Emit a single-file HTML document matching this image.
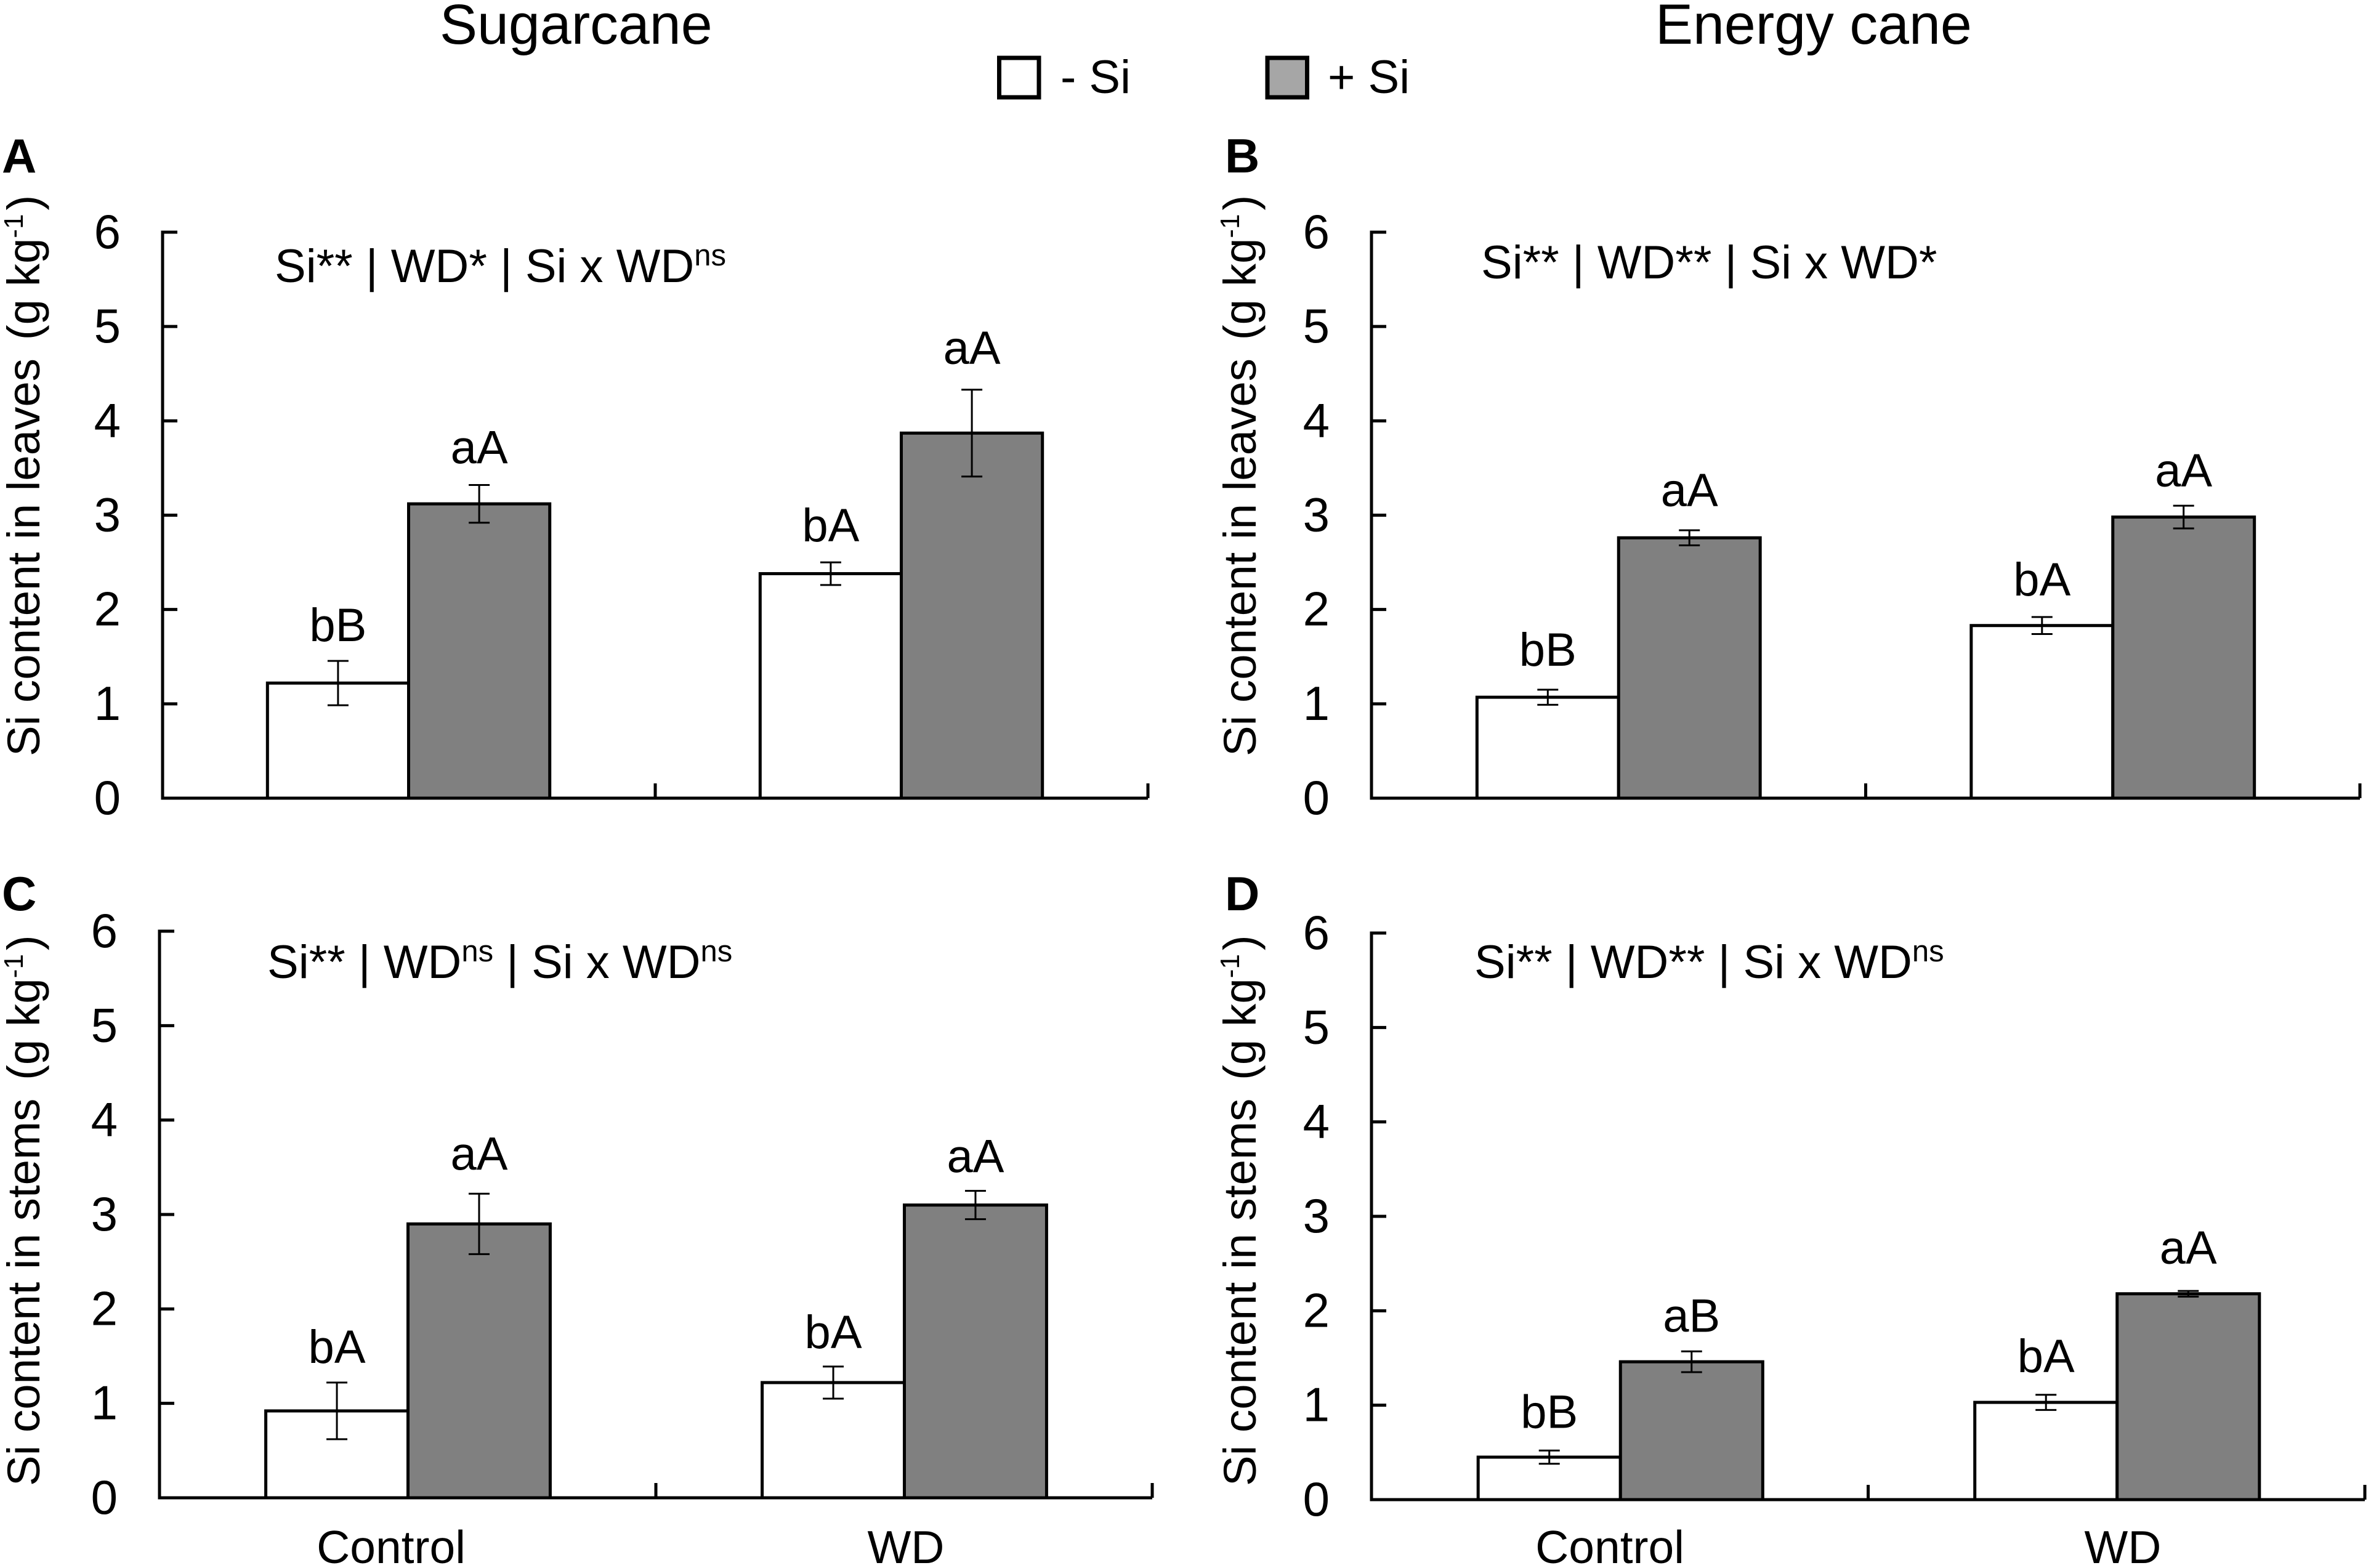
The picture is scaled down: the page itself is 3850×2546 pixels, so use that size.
<!DOCTYPE html>
<html lang="en">
<head>
<meta charset="utf-8">
<title>Si content in sugarcane and energy cane</title>
<style>
html,body{margin:0;padding:0;background:#fff;}
svg{display:block;}
text{font-family:"Liberation Sans",Arial,sans-serif;fill:#000;}
</style>
</head>
<body>
<svg id="figure" xmlns="http://www.w3.org/2000/svg" width="3850" height="2546" viewBox="0 0 3850 2546">
  <rect width="3850" height="2546" fill="#fff"/>
  <text x="714" y="71" font-size="91.5">Sugarcane</text>
  <text x="2688" y="71" font-size="91.5">Energy cane</text>
  <g>
    <rect x="1622.5" y="94" width="64.5" height="64" fill="#fff" stroke="#000" stroke-width="7"/>
    <text x="1722" y="151" font-size="76">- Si</text>
    <rect x="2058" y="94" width="64.5" height="64" fill="#a6a6a6" stroke="#000" stroke-width="7"/>
    <text x="2156" y="151" font-size="76">+ Si</text>
  </g>
</svg>
<script>
// Shared axis data
const categories = ['Control', 'WD'];
const yTicks = [0, 1, 2, 3, 4, 5, 6];

// Panel A: sugarcane leaves
const aMinus = [1.22, 2.38];
const aPlus = [3.12, 3.87];
const aMinusErr = [0.235, 0.12];
const aPlusErr = [0.2, 0.46];
const aMinusLetters = ['bB', 'bA'];
const aPlusLetters = ['aA', 'aA'];

// Panel B: energy cane leaves
const bMinus = [1.07, 1.83];
const bPlus = [2.76, 2.98];
const bMinusErr = [0.08, 0.09];
const bPlusErr = [0.08, 0.12];
const bMinusLetters = ['bB', 'bA'];
const bPlusLetters = ['aA', 'aA'];

// Panel C: sugarcane stems
const cMinus = [0.92, 1.22];
const cPlus = [2.9, 3.1];
const cMinusErr = [0.3, 0.17];
const cPlusErr = [0.32, 0.15];
const cMinusLetters = ['bA', 'bA'];
const cPlusLetters = ['aA', 'aA'];

// Panel D: energy cane stems
const dMinus = [0.45, 1.03];
const dPlus = [1.46, 2.18];
const dMinusErr = [0.07, 0.08];
const dPlusErr = [0.11, 0.03];
const dMinusLetters = ['bB', 'bA'];
const dPlusLetters = ['aB', 'aA'];

const SVG_NS = 'http://www.w3.org/2000/svg';
const INK = '#000';
const figure = document.getElementById('figure');

function make(parent, tag, attrs, content) {
  const el = document.createElementNS(SVG_NS, tag);
  for (const k in attrs) el.setAttribute(k, attrs[k]);
  if (content !== undefined) el.textContent = content;
  parent.appendChild(el);
  return el;
}

function drawPanel(cfg) {
  const panel = make(figure, 'g', {});
  
  

  const y = function (v) { return cfg.y0 + (cfg.y6 - cfg.y0) * v / 6; };
  const band = (cfg.right - cfg.left) / categories.length;
  const barW = band * 0.2865;
  const xBand = function (i) { return cfg.left + band * i + band / 2 + cfg.shift; };

  // Panel letter
  const letter = make(panel, 'text', {x: cfg.letterX, y: cfg.letterY, 'font-size': 78, 'font-weight': 'bold'}, cfg.letter);
  
  

  // Y axis title
  const title = make(panel, 'text', {
    transform: 'translate(' + cfg.titleX + ',' + cfg.titleY + ') rotate(-90)',
    'font-size': 74.5
  }, cfg.yTitle + ' ');
  
  
  make(title, 'tspan', {dx: 9}, '(g kg');
  make(title, 'tspan', {'font-size': 44, dy: -27}, '-1');
  make(title, 'tspan', {dy: 27, dx: 6}, ')');

  // Effects annotation
  const note = make(panel, 'text', {x: cfg.noteX, y: cfg.noteY, 'font-size': 76});
  
  
  cfg.note.forEach(function (part) {
    if (part.sup) {
      make(note, 'tspan', {'font-size': 49, dy: -27}, part.sup);
      make(note, 'tspan', {dy: 27}, '\u200b');
    } else {
      make(note, 'tspan', {}, part.t);
    }
  });

  // Bars, error bars, letters
  categories.forEach(function (cat, i) {
    const cx = xBand(i);
    const series = [
      {name: 'minus-si', x: cx - barW, val: cfg.minus[i], err: cfg.minusErr[i], lab: cfg.minusLetters[i], fill: '#fff', gap: cfg.minusGap[i]},
      {name: 'plus-si', x: cx, val: cfg.plus[i], err: cfg.plusErr[i], lab: cfg.plusLetters[i], fill: '#808080', gap: cfg.plusGap[i]}
    ];
    series.forEach(function (s) {
      const bar = make(panel, 'rect', {
        x: s.x, y: y(s.val), width: barW, height: cfg.y0 - y(s.val),
        fill: s.fill, stroke: INK, 'stroke-width': 5
      });
      
      

      const mid = s.x + barW / 2;
      const err = make(panel, 'path', {
        d: 'M' + mid + ' ' + y(s.val + s.err) + 'V' + y(s.val - s.err) +
           'M' + (mid - 17) + ' ' + y(s.val + s.err) + 'H' + (mid + 17) +
           'M' + (mid - 17) + ' ' + y(s.val - s.err) + 'H' + (mid + 17),
        fill: 'none', stroke: INK, 'stroke-width': 3
      });
      
      

      const lab = make(panel, 'text', {
        x: mid, y: y(s.val + s.err) - s.gap, 'font-size': 76, 'text-anchor': 'middle'
      }, s.lab);
      
      
    });

    if (cfg.showCategories) {
      const catLabel = make(panel, 'text', {
        x: cfg.catX[i], y: cfg.catY, 'font-size': 75, 'text-anchor': 'middle'
      }, cat);
      
      
    }
  });

  // Axes
  const axes = make(panel, 'g', {stroke: INK, 'stroke-width': 5, fill: 'none'});
  
  
  const yAxis = make(axes, 'path', {d: 'M' + cfg.left + ' ' + (cfg.y6 - 2.5) + 'V' + (cfg.y0 + 2.5)});
  
  
  const xAxis = make(axes, 'path', {d: 'M' + cfg.left + ' ' + cfg.y0 + 'H' + cfg.right});
  
  

  yTicks.forEach(function (t) {
    const tick = make(axes, 'path', {d: 'M' + cfg.left + ' ' + y(t) + 'h24'});
    
    
    const tl = make(panel, 'text', {
      x: cfg.left - 68, y: y(t) + 26, 'font-size': 78, 'text-anchor': 'end'
    }, String(t));
    
    
  });
  categories.forEach(function (cat, i) {
    const tx = cfg.left + band * (i + 1);
    const tick = make(axes, 'path', {d: 'M' + tx + ' ' + cfg.y0 + 'v-24'});
    
    
  });
}

drawPanel({
  letter: 'A', letterX: 3, letterY: 280,
  left: 264, right: 1864, y0: 1296, y6: 377, shift: -0.5,
  yTitle: 'Si content in leaves', titleX: 64, titleY: 1228,
  noteX: 446, noteY: 458,
  note: [{t: 'Si** | WD* | Si x WD'}, {sup: 'ns'}],
  minus: aMinus, plus: aPlus, minusErr: aMinusErr, plusErr: aPlusErr,
  minusLetters: aMinusLetters, plusLetters: aPlusLetters,
  minusGap: [32, 34], plusGap: [35, 42]
});
drawPanel({
  letter: 'B', letterX: 1989, letterY: 280,
  left: 2227, right: 3832, y0: 1296, y6: 377, shift: 0,
  yTitle: 'Si content in leaves', titleX: 2039, titleY: 1228,
  noteX: 2405, noteY: 452,
  note: [{t: 'Si** | WD** | Si x WD*'}],
  minus: bMinus, plus: bPlus, minusErr: bMinusErr, plusErr: bPlusErr,
  minusLetters: bMinusLetters, plusLetters: bPlusLetters,
  minusGap: [39, 35], plusGap: [39, 31]
});
drawPanel({
  letter: 'C', letterX: 3, letterY: 1478,
  left: 259, right: 1871, y0: 2432, y6: 1512, shift: 0.5,
  yTitle: 'Si content in stems', titleX: 64, titleY: 2413,
  noteX: 434, noteY: 1588,
  note: [{t: 'Si** | WD'}, {sup: 'ns'}, {t: ' | Si x WD'}, {sup: 'ns'}],
  minus: cMinus, plus: cPlus, minusErr: cMinusErr, plusErr: cPlusErr,
  minusLetters: cMinusLetters, plusLetters: cPlusLetters,
  minusGap: [32, 30], plusGap: [39, 30],
  showCategories: true, catX: [635, 1471], catY: 2538
});
drawPanel({
  letter: 'D', letterX: 1989, letterY: 1478,
  left: 2227, right: 3840, y0: 2435, y6: 1515, shift: 1,
  yTitle: 'Si content in stems', titleX: 2039, titleY: 2413,
  noteX: 2394, noteY: 1588,
  note: [{t: 'Si** | WD** | Si x WD'}, {sup: 'ns'}],
  minus: dMinus, plus: dPlus, minusErr: dMinusErr, plusErr: dPlusErr,
  minusLetters: dMinusLetters, plusLetters: dPlusLetters,
  minusGap: [37, 37], plusGap: [32, 44],
  showCategories: true, catX: [2614, 3447], catY: 2538
});
</script>
</body>
</html>
